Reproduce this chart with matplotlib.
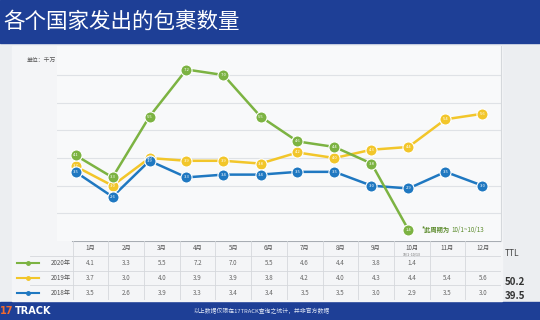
import numpy as np
import matplotlib.pyplot as plt
from matplotlib.patches import Rectangle
from matplotlib.lines import Line2D

plt.rcParams['font.family'] = ['Noto Sans CJK SC', 'DejaVu Sans']

months = ["1月", "2月", "3月", "4月", "5月", "6月",
          "7月", "8月", "9月", "10月", "11月", "12月"]
years = ["2020年", "2019年", "2018年"]
vals_2020 = [4.1, 3.3, 5.5, 7.2, 7.0, 5.5, 4.6, 4.4, 3.8, 1.4]
vals_2019 = [3.7, 3.0, 4.0, 3.9, 3.9, 3.8, 4.2, 4.0, 4.3, 4.4, 5.4, 5.6]
vals_2018 = [3.5, 2.6, 3.9, 3.3, 3.4, 3.4, 3.5, 3.5, 3.0, 2.9, 3.5, 3.0]
ttl = ["", "50.2", "39.5"]
colors = ["#7cb342", "#f2c62a", "#1f78c1"]

W, H = 540, 320
fig = plt.figure(figsize=(5.4, 3.2), dpi=100)
fig.patch.set_facecolor("#eceef1")


def fx(px):
    return px / W


def fy(py):
    return 1 - py / H


# background bands
for x0, y0, w, h, c in [(0, fy(43), 1, 43 / H, "#1e3f96"),
                        (0, 0, 1, 18 / H, "#1e3f96"),
                        (fx(12), fy(301), fx(490), (301 - 46) / H, "#f4f5f7")]:
    fig.patches.append(Rectangle((x0, y0), w, h, transform=fig.transFigure,
                                 color=c, zorder=-10))

fig.text(fx(3), fy(22), "各个国家发出的包裹数量", color="white", fontsize=15.5,
         va="center", ha="left")
fig.text(fx(27), fy(60), "单位：千万", color="#555555", fontsize=4.2, va="center")

# main chart
ax = fig.add_axes([fx(57), fy(241), fx(501 - 57), (241 - 46) / H])
ax.set_facecolor("#f8f9fa")
ax.set_xlim(-0.5, 11.5)
ax.set_ylim(1, 8.05)
for g in range(2, 8):
    ax.axhline(g, color="#dfe2e6", lw=0.8, zorder=0)
for s in ["top", "left", "bottom"]:
    ax.spines[s].set_visible(False)
ax.spines["right"].set_color("#d5d8dc")
ax.set_xticks([])
ax.set_yticks([])

for vals, c in zip([vals_2019, vals_2018, vals_2020], [colors[1], colors[2], colors[0]]):
    x = np.arange(len(vals))
    ax.plot(x, vals, color=c, lw=1.8, zorder=2)
    ax.plot(x, vals, "o", ms=8, mfc=c, mec="white", mew=0.8, zorder=3)
    for xi, v in zip(x, vals):
        ax.text(xi, v, f"{v:.1f}", color="white", fontsize=3, ha="center",
                va="center", zorder=4)

ax.text(9.35, 1.4, "*此周期为", color="#5a8a2a", fontsize=4.5, va="center",
        fontweight="bold")
ax.text(10.15, 1.4, "10/1~10/13", color="#5a8a2a", fontsize=4.5, va="center")

# data table below the chart
tb = fig.add_axes([fx(12), fy(300), fx(501 - 12), (300 - 241) / H])
tb.set_xlim(-1.7, 12)
tb.set_ylim(4, 0)
tb.axis("off")
tb.plot([0, 12], [0, 0], color="#a8adb3", lw=1.5)
for r in [1, 2, 3, 4]:
    tb.plot([-1.2, 12], [r, r], color="#d5d8dc", lw=0.6)
for k in range(13):
    tb.plot([k, k], [0, 4], color="#d5d8dc", lw=0.6)

for k, m in enumerate(months):
    tb.text(k + 0.5, 0.5, m, ha="center", va="center", fontsize=4.5, color="#555555")
tb.text(9.5, 0.92, "10/1~10/13", ha="center", va="center", fontsize=2.5, color="#666666")

rows = [vals_2020, vals_2019, vals_2018]
for r, (lab, vals, c) in enumerate(zip(years, rows, colors)):
    y = r + 1.5
    tb.add_line(Line2D([-1.55, -0.95], [y, y], color=c, lw=1.5))
    tb.plot([-1.25], [y], "o", ms=2.5, color=c)
    tb.text(-0.05, y, lab, ha="right", va="center", fontsize=4.5, color="#555555")
    for k, v in enumerate(vals):
        tb.text(k + 0.5, y, f"{v:.1f}", ha="center", va="center", fontsize=4.5,
                color="#666666")

fig.text(fx(505), fy(253), "TTL", fontsize=6, color="#444444", va="center")
fig.text(fx(505), fy(282), ttl[1], fontsize=7, color="#333333", va="center",
         fontweight="bold")
fig.text(fx(505), fy(296), ttl[2], fontsize=7, color="#333333", va="center",
         fontweight="bold")

# footer
fig.text(fx(0), fy(311), "17", fontsize=7, color="#f26a2e", va="center",
         fontweight="bold", family="DejaVu Sans")
fig.text(fx(15), fy(311), "TRACK", fontsize=7, color="white", va="center",
         fontweight="bold", family="DejaVu Sans")
fig.text(fx(262), fy(311), "以上数据仅限在17TRACK查询之统计，并非官方数据",
         fontsize=4.2, color="#dfe6f5", va="center", ha="center")

fig.savefig("out.png", dpi=100, facecolor=fig.get_facecolor())
